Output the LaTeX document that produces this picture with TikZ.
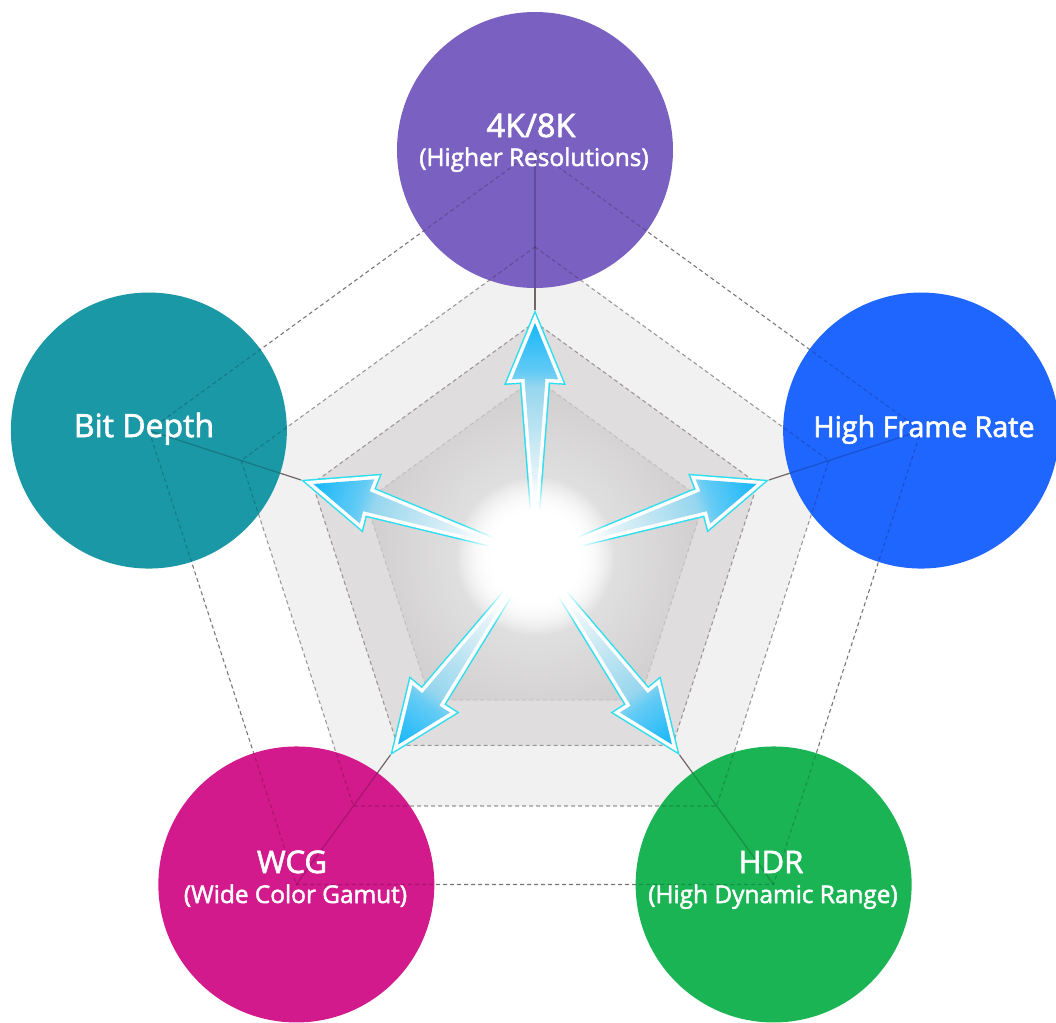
\documentclass[tikz,border=0pt]{standalone}
\usepackage{fontspec}
\setmainfont{Open Sans}[FakeBold=2]
\usetikzlibrary{fadings}

\definecolor{cpurple}{RGB}{122,96,192}
\definecolor{cblue}{RGB}{31,102,255}
\definecolor{cteal}{RGB}{27,152,165}
\definecolor{cmagenta}{RGB}{210,26,140}
\definecolor{cgreen}{RGB}{27,180,85}
\definecolor{bandouter}{RGB}{241,241,241}
\definecolor{bandmid}{RGB}{223,221,221}
\definecolor{innerrim}{RGB}{203,201,201}
\definecolor{innerA}{RGB}{224,223,223}
\definecolor{innerB}{RGB}{210,208,208}
\definecolor{dashdark}{RGB}{125,114,114}
\definecolor{dashmid}{RGB}{155,149,149}
\definecolor{dashlight}{RGB}{192,189,189}
\definecolor{spoke}{RGB}{112,102,102}
\definecolor{arrowedge}{RGB}{45,222,240}
\definecolor{arrowtip}{RGB}{22,183,250}
\definecolor{aheadlight}{RGB}{100,203,245}
\definecolor{ashaftA}{RGB}{150,214,238}
\definecolor{ashaftB}{RGB}{210,236,245}

\pgfdeclareradialshading{innerglow}{\pgfpoint{0bp}{0bp}}{color(0bp)=(white); color(5bp)=(white); color(10bp)=(innerA); color(20bp)=(innerB); color(25bp)=(innerrim); color(50bp)=(innerrim)}
\pgfdeclarehorizontalshading{arrowshade}{100bp}{color(0bp)=(white); color(25bp)=(white); color(40bp)=(ashaftB); color(58bp)=(ashaftA); color(62bp)=(aheadlight); color(75bp)=(arrowtip); color(100bp)=(arrowtip)}
\pgfdeclareradialshading{glowmask}{\pgfpoint{0bp}{0bp}}{rgb(0bp)=(1,1,1); rgb(12bp)=(1,1,1); rgb(21bp)=(0,0,0); rgb(50bp)=(0,0,0)}
\pgfdeclarefading{glowfade}{\pgfuseshading{glowmask}}

\tikzset{
  arrowpath/.style={insert path={(45,0.3) -- (177.3,10.5) -- (176.5,23.3) -- (233,0) -- (176.5,-23.3) -- (177.3,-10.5) -- (45,-0.3) -- cycle}},
  bubble/.style={circle, minimum size=207pt, inner sep=0pt},
  lbl/.style={text=white, anchor=base, inner sep=0pt, font=\fontsize{23.3}{28}\selectfont},
  sublbl/.style={text=white, anchor=base, inner sep=0pt, font=\fontsize{18.3}{22}\selectfont},
  outerdash/.style={draw=dashdark, line width=0.8pt, dash pattern=on 3pt off 2.25pt},
  banddash/.style={draw=dashmid, line width=0.8pt, dash pattern=on 3pt off 2.25pt},
  innerdash/.style={draw=dashlight, line width=0.7pt, dash pattern=on 3pt off 2.25pt},
  spokeline/.style={draw=spoke, line width=0.9pt},
}

\begin{document}
\begin{tikzpicture}[x=0.75pt, y=0.75pt, line join=miter]
\useasboundingbox (-535,-466) rectangle (521,556);
\fill[white] (-535,-466) rectangle (521,556);

% bands
\fill[bandouter] (90:309) -- (18:309) -- (-54:309) -- (-126:309) -- (162:309) -- cycle;
\fill[bandmid] (90:234) -- (18:234) -- (-54:234) -- (-126:234) -- (162:234) -- cycle;
\begin{scope}
  \clip (90:178) -- (18:178) -- (-54:178) -- (-126:178) -- (162:178) -- cycle;
  \shade[shading=innerglow] (0,0) circle (200);
\end{scope}
\draw[banddash] (90:309) -- (18:309) -- (-54:309) -- (-126:309) -- (162:309) -- cycle;
\draw[banddash] (90:234) -- (18:234) -- (-54:234) -- (-126:234) -- (162:234) -- cycle;
\draw[innerdash] (90:178) -- (18:178) -- (-54:178) -- (-126:178) -- (162:178) -- cycle;

% positions
\coordinate (pT) at (90:406);
\coordinate (pR) at (18:406);
\coordinate (pBR) at (-54:406);
\coordinate (pBL) at (-126:406);
\coordinate (pL) at (162:406);
\coordinate (tT) at (90:246);
\coordinate (tR) at (18:246);
\coordinate (tBR) at (-54:246);
\coordinate (tBL) at (-126:246);
\coordinate (tL) at (162:246);

% outer dashed pentagon and spokes
\draw[outerdash] (pT) -- (pR) -- (pBR) -- (pBL) -- (pL) -- cycle;
\draw[spokeline] (tT) -- (pT);
\draw[spokeline] (tR) -- (pR);
\draw[spokeline] (tBR) -- (pBR);
\draw[spokeline] (tBL) -- (pBL);
\draw[spokeline] (tL) -- (pL);

% arrows
\foreach \ang in {90,18,-54,-126,162} {
  \begin{scope}[transform canvas={rotate=\ang}]
    \draw[arrowedge, line width=7.5pt, miter limit=10, arrowpath];
    \draw[white, line width=5.25pt, miter limit=10, arrowpath];
    \shade[shading=arrowshade, arrowpath];
  \end{scope}
}

% central glow
\fill[white, path fading=glowfade] (0,0) circle (95);

% bubbles
\node[bubble, fill=cpurple] (cT) at (pT) {};
\node[bubble, fill=cblue] (cR) at (pR) {};
\node[bubble, fill=cgreen] (cBR) at (pBR) {};
\node[bubble, fill=cmagenta] (cBL) at (pBL) {};
\node[bubble, fill=cteal] (cL) at (pL) {};

% lines seen through the bubbles
\begin{scope}
  \clip (pT) circle (138) (pR) circle (138) (pBR) circle (138) (pBL) circle (138) (pL) circle (138);
  \begin{scope}[opacity=0.2]
    \draw[outerdash, draw=black] (pT) -- (pR) -- (pBR) -- (pBL) -- (pL) -- cycle;
    \draw[banddash, draw=black] (90:309) -- (18:309) -- (-54:309) -- (-126:309) -- (162:309) -- cycle;
    \draw[spokeline, draw=black] (tT) -- (pT);
    \draw[spokeline, draw=black] (tR) -- (pR);
    \draw[spokeline, draw=black] (tBR) -- (pBR);
    \draw[spokeline, draw=black] (tBL) -- (pBL);
    \draw[spokeline, draw=black] (tL) -- (pL);
  \end{scope}
\end{scope}

% labels
\node[lbl, font=\fontsize{24.3}{29}\selectfont] (lT) at (-4,419) {4K/8K};
\node[sublbl] (sT) at (-1,390) {(Higher Resolutions)};
\node[lbl, font=\fontsize{24}{28}\selectfont] (lL) at (-391,119) {Bit Depth};
\node[lbl, font=\fontsize{21.5}{26}\selectfont] (lR) at (389,119) {High Frame Rate};
\node[lbl] (lBL) at (-243,-317) {WCG};
\node[sublbl] (sBL) at (-239.5,-347) {(Wide Color Gamut)};
\node[lbl] (lBR) at (236,-317) {HDR};
\node[sublbl] (sBR) at (238,-347) {(High Dynamic Range)};
\end{tikzpicture}
\end{document}
